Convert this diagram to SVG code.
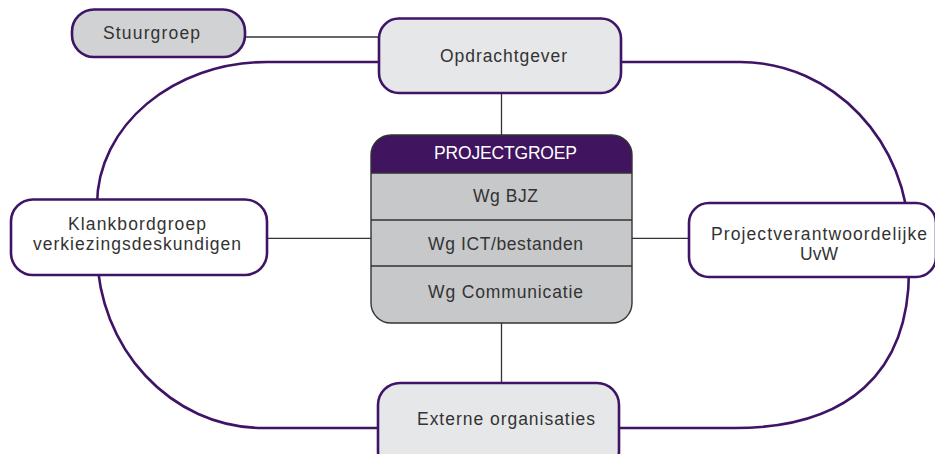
<svg xmlns="http://www.w3.org/2000/svg" width="935" height="454" viewBox="0 0 935 454">
<style>
.box{stroke:#3f1466;stroke-width:2.6}
.loop{fill:none;stroke:#3f1466;stroke-width:2.6}
.con{stroke:#333333;stroke-width:1.3;fill:none}
.t{font-family:"Liberation Sans",Arial,sans-serif;font-size:17.5px;fill:#333333;text-anchor:middle}
.w{fill:#ffffff}
</style>
<rect width="935" height="454" fill="#ffffff"/>
<g id="connectors">
<path class="loop" d="M267,62 H740 C833,62 909,142 909,240 V270 C909,372.7 848,428 735,428 H263 C171,428 97,348 97,250 V205 C97,126 173,62 267,62 Z"/>
<line class="con" x1="245" y1="37" x2="379" y2="37"/>
<line class="con" x1="501.5" y1="93" x2="501.5" y2="135"/>
<line class="con" x1="267" y1="238.3" x2="371" y2="238.3"/>
<line class="con" x1="632" y1="238.3" x2="689" y2="238.3"/>
<line class="con" x1="501.5" y1="323" x2="501.5" y2="383"/>
</g>
<g id="stuurgroep">
<rect class="box" x="72" y="9.5" width="173" height="47.5" rx="22" fill="#d1d2d4"/>
<text class="t" x="151.5" y="38.5" textLength="97" lengthAdjust="spacing">Stuurgroep</text>
</g>
<g id="opdrachtgever">
<rect class="box" x="379" y="18.5" width="242" height="74.5" rx="20" fill="#e6e7e9"/>
<text class="t" x="503.5" y="62" textLength="127" lengthAdjust="spacing">Opdrachtgever</text>
</g>
<g id="klankbordgroep">
<rect class="box" x="11" y="199.5" width="256" height="75.5" rx="22" fill="#ffffff"/>
<text class="t" x="137" y="229.5" textLength="138" lengthAdjust="spacing">Klankbordgroep</text>
<text class="t" x="137" y="250" textLength="208" lengthAdjust="spacing">verkiezingsdeskundigen</text>
</g>
<g id="projectverantwoordelijke">
<rect class="box" x="689" y="203" width="247" height="74" rx="20" fill="#ffffff"/>
<text class="t" x="819" y="240" textLength="216" lengthAdjust="spacing">Projectverantwoordelijke</text>
<text class="t" x="819" y="260" textLength="38" lengthAdjust="spacing">UvW</text>
</g>
<g id="projectgroep">
<rect x="371" y="135" width="261" height="188" rx="20" fill="#c7c8ca"/>
<path d="M371,173 V155 A20,20 0 0 1 391,135 H612 A20,20 0 0 1 632,155 V173 Z" fill="#40145f"/>
<line class="con" x1="371" y1="173" x2="632" y2="173" stroke-width="1"/>
<line class="con" x1="371" y1="220" x2="632" y2="220"/>
<line class="con" x1="371" y1="266" x2="632" y2="266"/>
<rect x="371" y="135" width="261" height="188" rx="20" fill="none" stroke="#333333" stroke-width="1.4"/>
<text class="t w" x="505.5" y="159" textLength="143" lengthAdjust="spacing">PROJECTGROEP</text>
<text class="t" x="505.5" y="202" textLength="65" lengthAdjust="spacing">Wg BJZ</text>
<text class="t" x="505.5" y="250" textLength="155" lengthAdjust="spacing">Wg ICT/bestanden</text>
<text class="t" x="505.5" y="298" textLength="155" lengthAdjust="spacing">Wg Communicatie</text>
</g>
<g id="externe">
<rect class="box" x="378" y="383" width="241" height="90" rx="22" fill="#e6e7e9"/>
<text class="t" x="506" y="425" textLength="178" lengthAdjust="spacing">Externe organisaties</text>
</g>
</svg>
